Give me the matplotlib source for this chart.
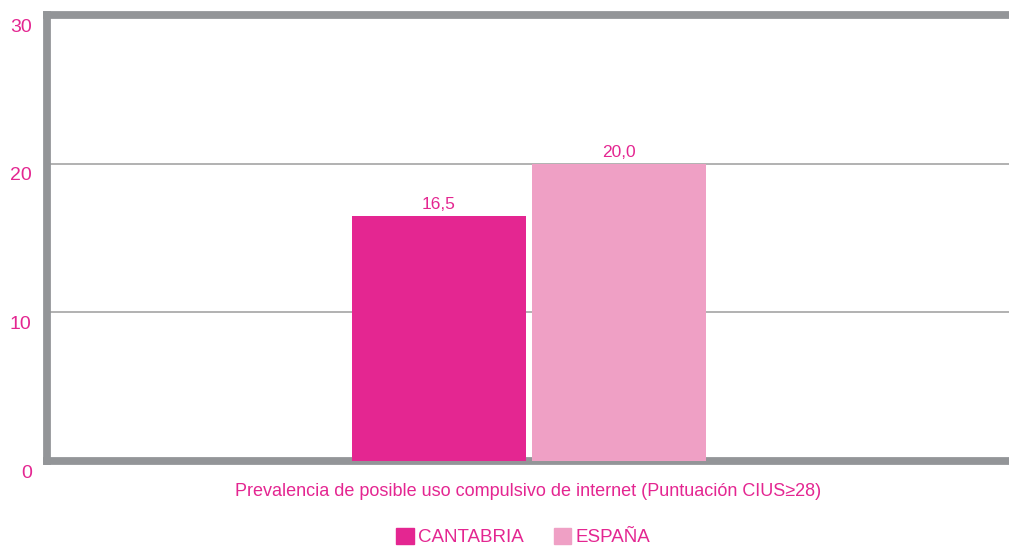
import matplotlib
matplotlib.use('agg')
import matplotlib.pyplot as plt
from matplotlib.patches import Patch
import matplotlib.transforms as mtransforms

plt.rcParams['font.family'] = ['Liberation Sans Narrow', 'Liberation Sans', 'DejaVu Sans']

series = ['CANTABRIA', 'ESPAÑA']
values = [16.5, 20.0]
value_labels = ['16,5', '20,0']
colors = ['#E42691', '#EFA0C5']
yticks = [0, 10, 20, 30]
xlabel = 'Prevalencia de posible uso compulsivo de internet (Puntuación CIUS≥28)'

pink = '#E42691'
gray = '#939598'

fig = plt.figure(figsize=(10.09, 5.46), dpi=100)
ax = fig.add_axes([47 / 1009, 85 / 546, 962 / 1009, 446 / 546])

xpos = [0, 1]
bars = ax.bar(xpos, values, width=0.967, color=colors, zorder=5)
for b, lab in zip(bars, value_labels):
    ax.annotate(lab, (b.get_x() + b.get_width() / 2, b.get_height()),
                xytext=(0, 2.5), textcoords='offset points',
                ha='center', va='bottom', color=pink, fontsize=12.5)

ax.set_xlim(-2.178, 3.167)
ax.set_ylim(0, 30)
ax.set_yticks(yticks)
ax.set_xticks([])
ax.tick_params(axis='y', length=0, pad=11, labelsize=14, labelcolor=pink)
offset = mtransforms.ScaledTranslation(0, -10 / 100, fig.dpi_scale_trans)
for t in ax.get_yticklabels():
    t.set_transform(t.get_transform() + offset)

for y in [10, 20]:
    ax.axhline(y, color='#9D9D9D', lw=1.1, zorder=1)

for s in ['left', 'top', 'bottom']:
    ax.spines[s].set_color(gray)
    ax.spines[s].set_linewidth(5.6)
    ax.spines[s].set_zorder(3)
ax.spines['right'].set_visible(False)

fig.text(528 / 1009, (546 - 491) / 546, xlabel, ha='center', va='center',
         color=pink, fontsize=13)

handles = [Patch(color=c, label=s) for c, s in zip(colors, series)]
leg = fig.legend(handles=handles, loc='center', ncol=2, frameon=False,
                 bbox_to_anchor=(523 / 1009, (546 - 537) / 546),
                 fontsize=13.5, handlelength=0.95, handleheight=0.95,
                 handletextpad=0.2, columnspacing=1.6, borderpad=0)
for t in leg.get_texts():
    t.set_color(pink)

fig.savefig('out.png', dpi=100)
